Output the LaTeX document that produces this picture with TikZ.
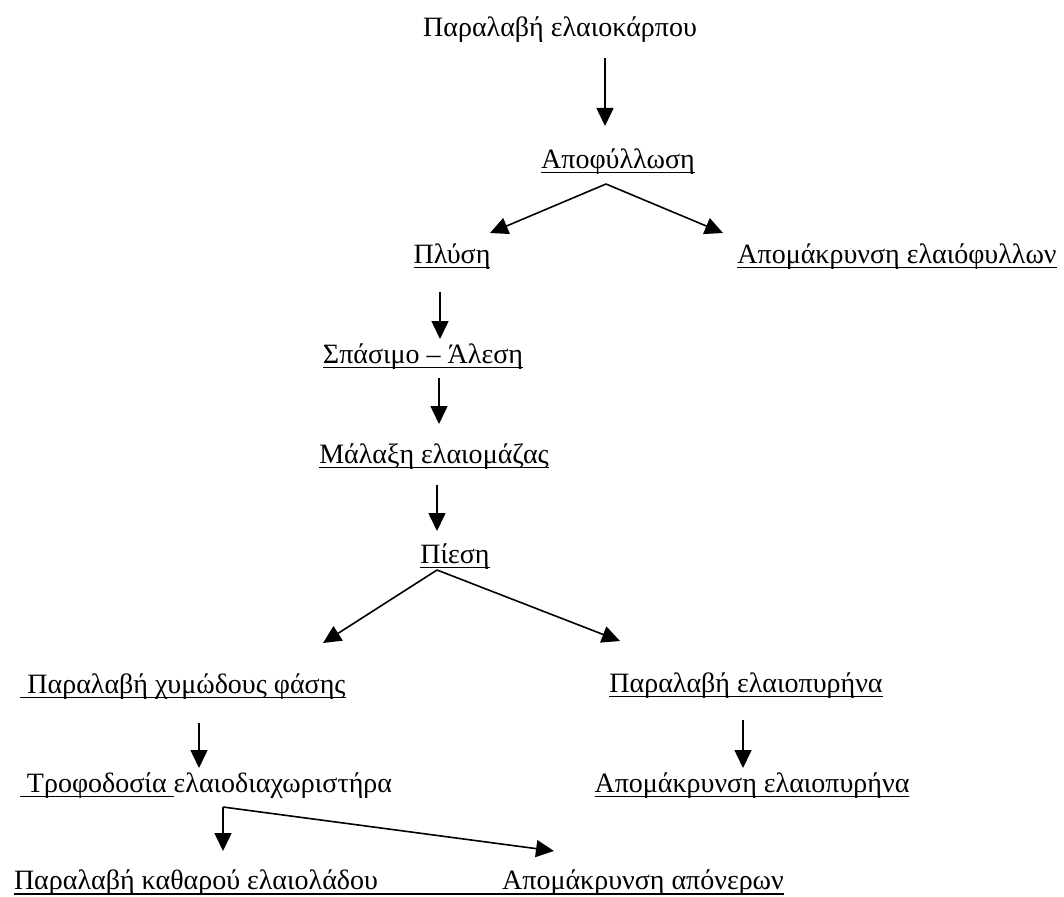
\documentclass[tikz,border=0pt]{standalone}
\usepackage{fontspec}
\setmainfont{Liberation Serif}
\usetikzlibrary{arrows.meta}
\newlength\ulw
\newcommand\ulin[1]{\settowidth\ulw{#1}\rlap{\rule[-5pt]{\ulw}{1.5pt}}#1}
\tikzset{
  lbl/.style={inner sep=0pt, anchor=base, font=\fontsize{28}{32}\selectfont},
  flow/.style={line width=1.6pt, -{Triangle[length=18pt,width=17pt]}},
  ulline/.style={line width=1.5pt}
}
\begin{document}
\begin{tikzpicture}[x=1pt,y=-1pt]
\useasboundingbox (0,0) rectangle (1064,896);
% texts
\node[lbl] (t0) at (560,37) {Παραλαβή ελαιοκάρπου};
\node[lbl] (t1) at (618,168) {\ulin{Αποφύλλωση}};
\node[lbl] (t2) at (452,263) {\ulin{Πλύση}};
\node[lbl] (t3) at (897,263) {\ulin{Απομάκρυνση ελαιόφυλλων}};
\node[lbl] (t4) at (423,363) {\ulin{Σπάσιμο – Άλεση}};
\node[lbl] (t5) at (434,463) {\ulin{Μάλαξη ελαιομάζας}};
\node[lbl] (t6) at (455,563) {\ulin{Πίεση}};
\node[lbl] (t7) at (183,693) {\ulin{\ Παραλαβή χυμώδους φάσης}};
\node[lbl] (t8) at (746,692) {\ulin{Παραλαβή ελαιοπυρήνα}};
\node[lbl] (t9) at (206,792) {\ulin{\ Τροφοδοσία\ }ελαιοδιαχωριστήρα};
\node[lbl] (t10) at (752,792) {\ulin{Απομάκρυνση ελαιοπυρήνα}};
\node[lbl] (t11) at (196,889) {Παραλαβή καθαρού ελαιολάδου};
\node[lbl] (t12) at (643,889) {Απομάκρυνση απόνερων};
\draw[ulline] ([yshift=-5pt]t11.base west) -- ([yshift=-5pt]t12.base east);
% arrow end points
\coordinate (a0s) at (605,58);  \coordinate (a0e) at (605,126);
\coordinate (v1) at (606,184);  \coordinate (v1l) at (490,233); \coordinate (v1r) at (723,233);
\coordinate (a2s) at (440,292); \coordinate (a2e) at (440,339);
\coordinate (a3s) at (439,378); \coordinate (a3e) at (439,424);
\coordinate (a4s) at (437,485); \coordinate (a4e) at (437,531);
\coordinate (v2) at (437,570);  \coordinate (v2l) at (323,643); \coordinate (v2r) at (620,641);
\coordinate (a7s) at (199,723); \coordinate (a7e) at (199,768);
\coordinate (a8s) at (743,720); \coordinate (a8e) at (743,768);
\coordinate (c9) at (223,807);  \coordinate (c9d) at (223,851); \coordinate (c9r) at (554,851);
% connectors
\draw[flow] (a0s) -- (a0e);
\draw[flow] (v1) -- (v1l);
\draw[flow] (v1) -- (v1r);
\draw[flow] (a2s) -- (a2e);
\draw[flow] (a3s) -- (a3e);
\draw[flow] (a4s) -- (a4e);
\draw[flow] (v2) -- (v2l);
\draw[flow] (v2) -- (v2r);
\draw[flow] (a7s) -- (a7e);
\draw[flow] (a8s) -- (a8e);
\draw[flow] (c9) -- (c9d);
\draw[flow] (c9) -- (c9r);
\end{tikzpicture}
\end{document}
